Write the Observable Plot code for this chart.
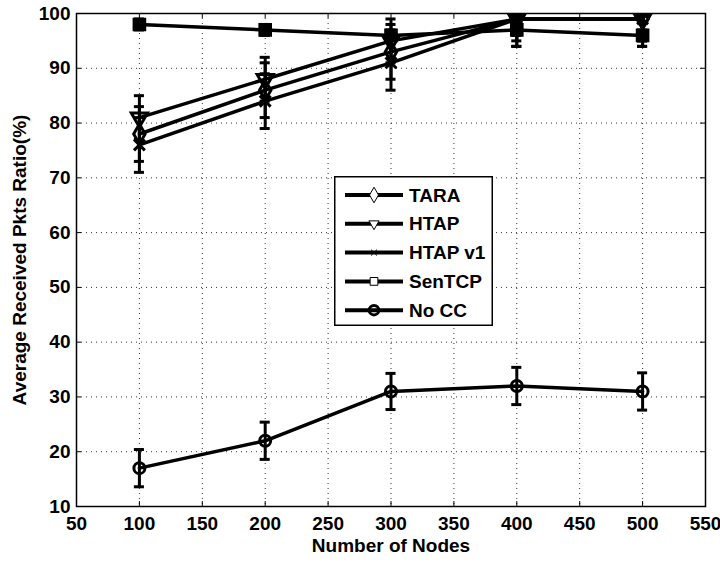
<!DOCTYPE html>
<html>
<head>
<meta charset="utf-8">
<script src="https://cdn.jsdelivr.net/npm/d3@7"></script>
<script src="https://cdn.jsdelivr.net/npm/@observablehq/plot@0.6"></script>
<style>
  html, body { margin: 0; padding: 0; background: #fff; }
  #wrap { position: relative; width: 720px; height: 562px; }
  #legend { position: absolute; left: 334px; top: 176px; }
</style>
</head>
<body>
<div id="wrap"></div>
<script>
// ---- data ----
const nodes = [100, 200, 300, 400, 500];
const seriesNames = ["TARA", "HTAP", "HTAP v1", "SenTCP", "No CC"];
const taraVals   = [78, 86, 93, 99, 99];
const taraErr    = [5, 5, 5, 5, 5];
const htapVals   = [81, 88, 95, 99, 99];
const htapErr    = [4, 4, 4, 4, 4];
const htapV1Vals = [76, 84, 91, 99, 99];
const htapV1Err  = [5, 5, 5, 5, 5];
const senVals    = [98, 97, 96, 97, 96];
const senErr     = [1, 1, 1, 1, 1];
const noccVals   = [17, 22, 31, 32, 31];
const noccErr    = [3.4, 3.4, 3.3, 3.4, 3.4];
const xTicks = [50, 100, 150, 200, 250, 300, 350, 400, 450, 500, 550];
const yTicks = [10, 20, 30, 40, 50, 60, 70, 80, 90, 100];
const xLabel = "Number of Nodes";
const yLabel = "Average Received Pkts Ratio(%)";

const symbols = {
  "TARA": {symbol: d3.symbolDiamond, rotate: 0, fill: "none", r: 6},
  "HTAP": {symbol: d3.symbolTriangle, rotate: 180, fill: "none", r: 6},
  "HTAP v1": {symbol: d3.symbolTimes, rotate: 0, fill: "none", r: 5},
  "SenTCP": {symbol: d3.symbolSquare, rotate: 0, fill: "black", r: 6},
  "No CC": {symbol: d3.symbolCircle, rotate: 0, fill: "none", r: 5.5}
};

const valsBy = [taraVals, htapVals, htapV1Vals, senVals, noccVals];
const errBy = [taraErr, htapErr, htapV1Err, senErr, noccErr];
const rows = [];
seriesNames.forEach((s, i) => nodes.forEach((n, j) => rows.push({
  series: s, x: n, y: valsBy[i][j], lo: valsBy[i][j] - errBy[i][j], hi: valsBy[i][j] + errBy[i][j]
})));

const font = "'Liberation Sans', Arial, Helvetica, sans-serif";
const gridX = xTicks.slice(1, -1);
const gridY = yTicks.slice(1, -1);

const marks = [
  // dotted grid
  Plot.ruleX(gridX, {x: d => d, stroke: "#333", strokeWidth: 1, strokeDasharray: "1,4"}),
  Plot.ruleY(gridY, {y: d => d, stroke: "#333", strokeWidth: 1, strokeDasharray: "1,4"}),
  // inward ticks
  Plot.ruleX(xTicks, {x: d => d, y1: 10, y2: 10.9, stroke: "black", strokeWidth: 1}),
  Plot.ruleX(xTicks, {x: d => d, y1: 99.1, y2: 100, stroke: "black", strokeWidth: 1}),
  Plot.ruleY(yTicks, {y: d => d, x1: 50, x2: 54, stroke: "black", strokeWidth: 1}),
  Plot.ruleY(yTicks, {y: d => d, x1: 546, x2: 550, stroke: "black", strokeWidth: 1}),
  Plot.frame({stroke: "black", strokeWidth: 1.5})
];

seriesNames.forEach(s => {
  const data = rows.filter(d => d.series === s);
  const sym = symbols[s];
  marks.push(
    Plot.ruleX(data, {x: "x", y1: "lo", y2: "hi", stroke: "black", strokeWidth: 3, clip: true}),
    Plot.ruleY(data, {y: "lo", x1: d => d.x - 4, x2: d => d.x + 4, stroke: "black", strokeWidth: 3, clip: true}),
    Plot.ruleY(data, {y: "hi", x1: d => d.x - 4, x2: d => d.x + 4, stroke: "black", strokeWidth: 3, clip: true}),
    Plot.line(data, {x: "x", y: "y", stroke: "black", strokeWidth: 3.5, clip: true}),
    Plot.dot(data, {x: "x", y: "y", symbol: sym.symbol, rotate: sym.rotate, r: sym.r,
      fill: sym.fill, stroke: "black", strokeWidth: 3, clip: true})
  );
});

marks.push(
  Plot.axisX(xTicks, {tickSize: 0, tickPadding: 10, fontSize: 19, fontWeight: "bold", fill: "black"}),
  Plot.axisY(yTicks, {tickSize: 0, tickPadding: 6, fontSize: 19, fontWeight: "bold", fill: "black"}),
  Plot.text([xLabel], {frameAnchor: "bottom", dy: 45, text: d => d, textAnchor: "middle", fontSize: 19, fontWeight: "bold", fill: "black"}),
  Plot.text([yLabel], {frameAnchor: "left", dx: -57, rotate: -90, text: d => d, textAnchor: "middle", fontSize: 19, fontWeight: "bold", fill: "black"})
);

const chart = Plot.plot({
  width: 720,
  height: 562,
  marginLeft: 76,
  marginRight: 15,
  marginTop: 13,
  marginBottom: 56,
  style: {fontFamily: font, background: "white", color: "black", overflow: "visible"},
  x: {domain: [50, 550], label: null},
  y: {domain: [10, 100], label: null},
  marks
});
document.getElementById("wrap").appendChild(chart);

// ---- legend ----
const lw = 159, lh = 150;
const leg = d3.select("#wrap").append("svg")
  .attr("id", "legend").attr("width", lw).attr("height", lh)
  .style("font-family", font);
leg.append("rect").attr("x", 0.75).attr("y", 0.75).attr("width", lw - 1.5).attr("height", lh - 1.5)
  .attr("fill", "white").attr("stroke", "black").attr("stroke-width", 1.5);
const legSym = {
  "TARA": {sym: d3.symbolDiamond, size: 70, rot: 0, sw: 1, fill: "white"},
  "HTAP": {sym: d3.symbolTriangle, size: 45, rot: 180, sw: 1, fill: "white"},
  "HTAP v1": {sym: d3.symbolTimes, size: 25, rot: 0, sw: 1, fill: "none"},
  "SenTCP": {sym: d3.symbolSquare, size: 60, rot: 0, sw: 1, fill: "white"},
  "No CC": {sym: d3.symbolCircle, size: 70, rot: 0, sw: 3, fill: "none"}
};
seriesNames.forEach((s, i) => {
  const cy = 19 + i * 28.8;
  const g = leg.append("g");
  g.append("line").attr("x1", 11).attr("x2", 69).attr("y1", cy).attr("y2", cy)
    .attr("stroke", "black").attr("stroke-width", 4);
  const ls = legSym[s];
  g.append("path").attr("d", d3.symbol(ls.sym, ls.size)())
    .attr("transform", `translate(40,${cy}) rotate(${ls.rot})`)
    .attr("fill", ls.fill).attr("stroke", "black").attr("stroke-width", ls.sw);
  g.append("text").attr("x", 75).attr("y", cy).attr("dy", "0.35em")
    .attr("font-size", 19).attr("font-weight", "bold").text(s);
});
</script>
</body>
</html>
